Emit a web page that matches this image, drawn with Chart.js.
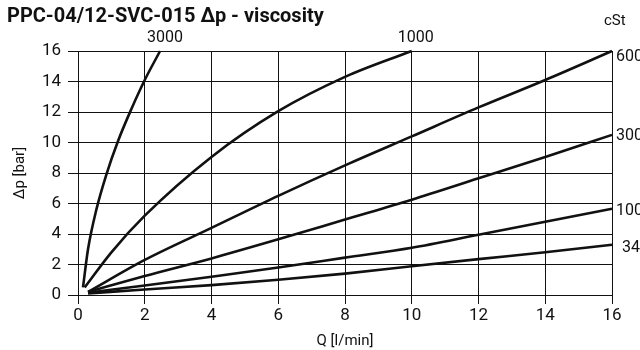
<!DOCTYPE html>
<html>
<head>
<meta charset="utf-8">
<script src="https://cdn.jsdelivr.net/npm/chart.js@4/dist/chart.umd.min.js"></script>
<style>
  html, body { margin: 0; padding: 0; background: #fff; }
  #wrap { width: 640px; height: 350px; position: relative; }
</style>
</head>
<body>
<div id="wrap"><canvas id="dpChart"></canvas></div>
<script>
// chart data
const viscosities = ['3000', '1000', '600', '300', '100', '34'];

const q3000  = [0.15, 0.3, 0.55, 0.85, 1.2, 1.6, 2.0, 2.46];
const dp3000 = [0.5, 3.0, 5.6, 7.9, 10.1, 12.2, 14.1, 16];

const q1000  = [0.2, 1, 2, 4, 6, 8, 10];
const dp1000 = [0.5, 2.8, 5.2, 9.05, 12.05, 14.3, 16];

const qRest  = [0.3, 2, 4, 6, 8, 10, 12, 14, 16];
const dp600  = [0.2, 2.3, 4.4, 6.5, 8.5, 10.4, 12.3, 14.1, 16];
const dp300  = [0.2, 1.25, 2.4, 3.65, 4.95, 6.25, 7.65, 9.05, 10.5];
const dp100  = [0.15, 0.62, 1.2, 1.8, 2.45, 3.1, 3.95, 4.8, 5.65];
const dp34   = [0.1, 0.36, 0.65, 1.0, 1.4, 1.88, 2.35, 2.8, 3.3];

const xTicks = [0, 2, 4, 6, 8, 10, 12, 14, 16];
const yTicks = [0, 2, 4, 6, 8, 10, 12, 14, 16];

const FONT = "Roboto, 'Liberation Sans', sans-serif";

function pts(xs, ys) {
    return xs.map((x, i) => ({ x: x, y: ys[i] }));
}

const series = [
    pts(q3000, dp3000),
    pts(q1000, dp1000),
    pts(qRest, dp600),
    pts(qRest, dp300),
    pts(qRest, dp100),
    pts(qRest, dp34)
];

// where each curve name sits relative to its last point
const labelPlace = [
    { dx: 5, dy: -13, align: 'center' },
    { dx: 4, dy: -13, align: 'center' },
    { dx: 4, dy: 6, align: 'left' },
    { dx: 4, dy: 1, align: 'left' },
    { dx: 4, dy: 2, align: 'left' },
    { dx: 10, dy: 3, align: 'left' }
];

const textPlugin = {
    id: 'textPlugin',
    afterDraw(chart) {
        const ctx = chart.ctx;
        const xs = chart.scales.x, ys = chart.scales.y;
        ctx.save();
        ctx.fillStyle = '#111';
        ctx.textBaseline = 'middle';

        // title
        ctx.font = "bold 20px " + FONT;
        ctx.textAlign = 'left';
        ctx.fillText('PPC-04/12-SVC-015 \u2206p - viscosity', 7, 17);

        // unit of the curve names
        ctx.font = "15px " + FONT;
        ctx.fillText('cSt', 604, 21);

        // curve names
        ctx.font = "16px " + FONT;
        series.forEach((data, i) => {
            const last = data[data.length - 1];
            const p = labelPlace[i];
            ctx.textAlign = p.align;
            ctx.fillText(viscosities[i], xs.getPixelForValue(last.x) + p.dx, ys.getPixelForValue(last.y) + p.dy);
        });
        ctx.restore();
    }
};

const ctx = document.getElementById('dpChart').getContext('2d');
new Chart(ctx, {
    type: 'line',
    data: {
        datasets: series.map((data, i) => ({
            label: viscosities[i] + ' cSt',
            data: data,
            borderColor: '#111',
            borderWidth: 2.6,
            pointRadius: 0,
            fill: false,
            cubicInterpolationMode: 'monotone',
            clip: false
        }))
    },
    options: {
        responsive: true,
        maintainAspectRatio: false,
        animation: false,
        layout: { padding: { top: 51, right: 28, left: 0, bottom: 0 } },
        plugins: {
            legend: { display: false },
            tooltip: { enabled: false }
        },
        scales: {
            x: {
                type: 'linear',
                min: 0, max: 16,
                afterBuildTicks: s => { s.ticks = xTicks.map(v => ({ value: v })); },
                afterFit: s => { s.height = 55; },
                grid: { color: '#111', lineWidth: 1, tickLength: 9 },
                border: { color: '#111', width: 1 },
                ticks: { color: '#111', font: { family: FONT, size: 17 }, padding: 2, maxRotation: 0 },
                title: { display: true, text: 'Q [l/min]', color: '#111', font: { family: FONT, size: 15 }, padding: { top: 0, bottom: 0 } }
            },
            y: {
                min: 0, max: 16,
                afterBuildTicks: s => { s.ticks = yTicks.map(v => ({ value: v })); },
                afterFit: s => { s.width = 78; },
                grid: { color: '#111', lineWidth: 1, tickLength: 10 },
                border: { color: '#111', width: 1 },
                ticks: { color: '#111', font: { family: FONT, size: 17 }, padding: 7 },
                title: { display: true, text: '\u2206p [bar]', color: '#111', font: { family: FONT, size: 15 }, padding: { top: 11, bottom: 0 } }
            }
        }
    },
    plugins: [textPlugin]
});
</script>
</body>
</html>
